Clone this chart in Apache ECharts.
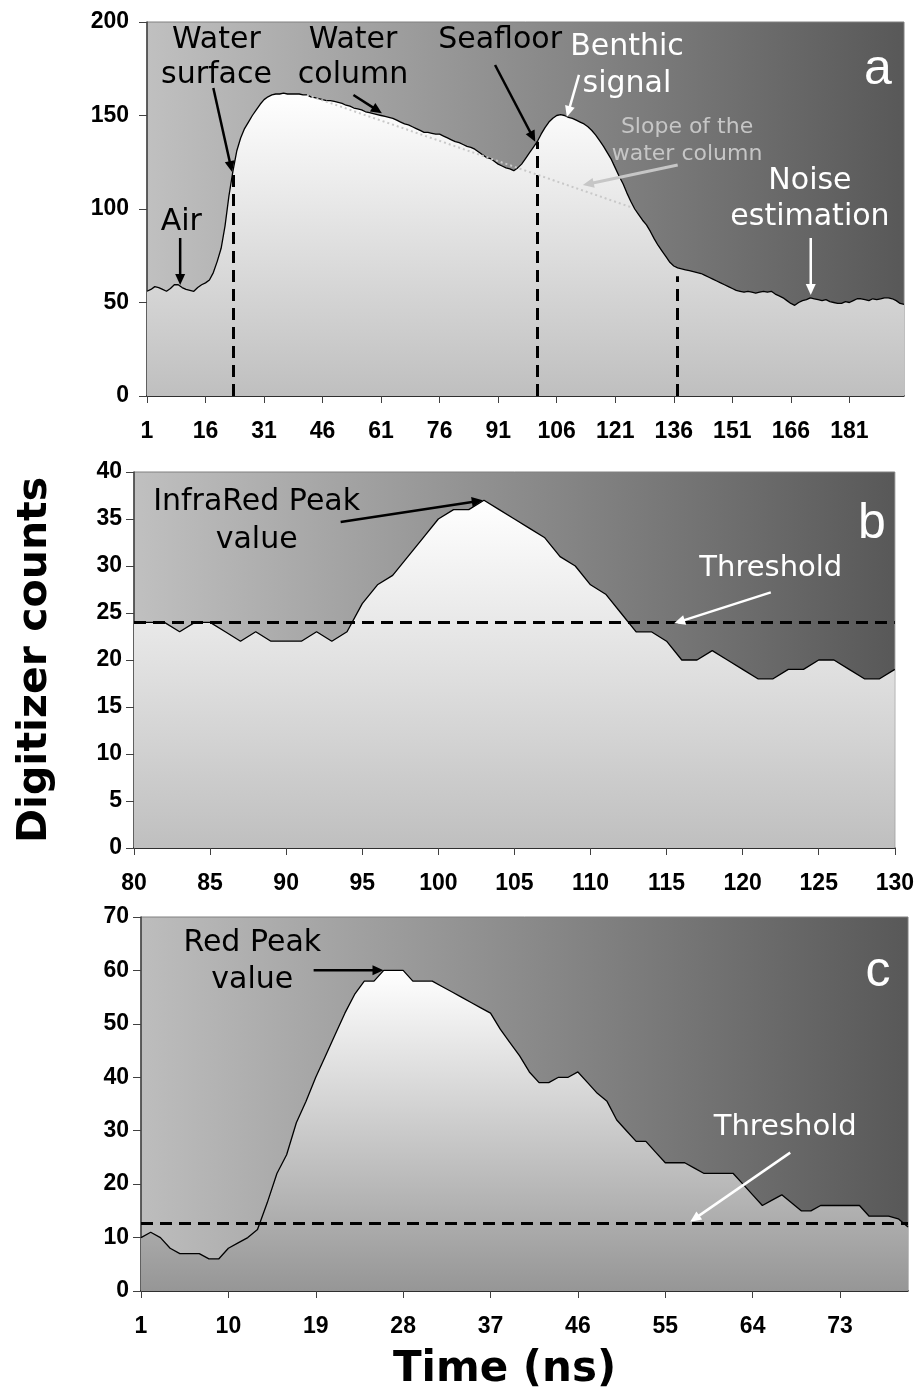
<!DOCTYPE html>
<html><head><meta charset="utf-8">
<script src="https://cdn.jsdelivr.net/npm/echarts@6/dist/echarts.min.js"></script>
<style>html,body{margin:0;padding:0;background:#fff}#c{width:917px;height:1399px}</style>
</head><body><div id="c"></div>
<script>
// ---------- DATA ----------
const timeA = Array.from({length: 195}, (_, i) => String(i + 1));
const countsA = [
  56, 57, 58.5, 58, 57, 56, 57.5, 59.5, 59.5, 58,
  57, 56.5, 56, 58, 59.5, 60.5, 62, 66, 72, 79,
  91, 107, 120, 131, 138, 143, 146.5, 150, 153, 156,
  158.5, 160, 161, 161.5, 161.5, 162, 161.5, 161.5, 161.5, 161.5,
  161, 161, 160, 159.5, 159, 158.5, 158, 158, 157.5, 157,
  156.5, 155.5, 155, 154, 153.5, 153, 152, 151.5, 151, 150.5,
  150, 149.5, 149, 148.5, 147.5, 146.5, 145.5, 145, 144, 143,
  142, 141, 141, 140.5, 140, 140, 139, 138, 137, 136,
  135.5, 134.5, 133.5, 133, 132, 130.5, 129, 127.5, 127, 125.5,
  124, 123, 122, 121.5, 120.5, 122, 124, 127, 130, 133,
  136, 140, 143.5, 146.5, 148.5, 150, 150.5, 150, 149, 148.5,
  147.5, 146.5, 145.5, 144, 142, 139.5, 136.5, 133.5, 130, 126.5,
  122, 117.5, 113.5, 108.5, 104, 100, 97, 94, 91.5, 88,
  84, 80.5, 77.5, 74.5, 71.5, 69.5, 68.5, 68, 67.5, 67,
  66.5, 66, 65.5, 64.5, 63.5, 62.5, 61.5, 60.5, 59.5, 58.5,
  57.5, 56.5, 56, 55.5, 56, 55.5, 55, 55.5, 56, 55.5,
  56, 54.5, 53.5, 52.5, 51, 49.5, 48.5, 50, 51, 51.5,
  52.5, 52, 51.5, 51, 51.5, 50.5, 50, 49.5, 49.5, 50.5,
  50, 51, 52, 52, 51.5, 51, 52, 51.5, 52, 52.5,
  52.5, 52, 51, 49.5, 49
];
// vertical limits in panel a: [time, top count]
const limitsA = [['23', 120], ['101', 136], ['137', 64]];
// water column slope line: [time, count] start and end
const slopeA = [['42', 161], ['125', 101]];

const timeB = [80,81,82,83,84,85,86,87,88,89,90,91,92,93,94,95,96,97,98,99,100,
  101,102,103,104,105,106,107,108,109,110,111,112,113,114,115,116,117,118,119,120,
  121,122,123,124,125,126,127,128,129,130];
const countsB = [
  24, 24, 24, 23, 24, 24, 23, 22, 23, 22,
  22, 22, 23, 22, 23, 26, 28, 29, 31, 33,
  35, 36, 36, 37, 36, 35, 34, 33, 31, 30,
  28, 27, 25, 23, 23, 22, 20, 20, 21, 20,
  19, 18, 18, 19, 19, 20, 20, 19, 18, 18,
  19
];
const thresholdB = 24;

const timeC = Array.from({length: 80}, (_, i) => String(i + 1));
const countsC = [
  10, 11, 10, 8, 7, 7, 7, 6, 6, 8,
  9, 10, 11.5, 16.5, 22, 25.5, 31.5, 35.5, 40, 44,
  48, 52, 55.5, 58, 58, 60, 60, 60, 58, 58,
  58, 57, 56, 55, 54, 53, 52, 49, 46.5, 44,
  41, 39, 39, 40, 40, 41, 39, 37, 35.5, 32,
  30, 28, 28, 26, 24, 24, 24, 23, 22, 22,
  22, 22, 20, 18, 16, 17, 18, 16.5, 15, 15,
  16, 16, 16, 16, 16, 14, 14, 14, 13.5, 12
];
const thresholdC = 12.7;

// annotations (panel, text, [time, count])
const labels = [
  [0, 'Water\nsurface', [18.8, 181]],
  [0, 'Water\ncolumn', [53.8, 181]],
  [0, 'Seafloor', [91.5, 190.4]],
  [0, 'Benthic\nsignal', [124, 176.5]],
  [0, 'Slope of the\nwater column', [139.4, 136.4]],
  [0, 'Noise\nestimation', [170.9, 105.3]],
  [0, 'Air', [9.8, 93]],
  [0, 'a', [188.3, 174.3]],
  [1, 'InfraRed Peak\nvalue', [88.06, 34.75]],
  [1, 'b', [128.5, 34.4]],
  [1, 'Threshold', [121.85, 29.76]],
  [2, 'Red Peak\nvalue', [12.46, 61.7]],
  [2, 'c', [76.9, 59.7]],
  [2, 'Threshold', [67.35, 30.7]]
];
const arrows = [
  [0, [18, 164.7], [22.8, 119.8], 'dark'],
  [0, [53.9, 161], [61.2, 151.2], 'dark'],
  [0, [90.2, 177], [100.5, 136], 'dark'],
  [0, [111.7, 171.7], [108.6, 149.2], 'light'],
  [0, [137, 123.5], [112.7, 112.8], 'grey'],
  [0, [171.1, 84.5], [171.1, 54], 'light'],
  [0, [9.5, 84.5], [9.5, 59.4], 'dark'],
  [1, [93.58, 34.68], [102.92, 36.99], 'dark'],
  [1, [121.85, 27.2], [115.5, 23.9], 'light'],
  [2, [18.78, 60.03], [25.98, 60.03], 'dark'],
  [2, [67.87, 25.9], [57.57, 12.96], 'light']
];

// ---------- STYLE ----------
const COMIC = "'Comic Sans MS', 'DejaVu Sans', sans-serif";
const ARIAL = "'Liberation Sans', Arial, sans-serif";
const labelStyle = {
  'Water\nsurface': ['#000', 30, 35], 'Water\ncolumn': ['#000', 30, 35], 'Seafloor': ['#000', 30, 35],
  'Benthic\nsignal': ['#fff', 30, 37], 'Slope of the\nwater column': ['#c6c6c6', 22, 27],
  'Noise\nestimation': ['#fff', 30, 36], 'Air': ['#000', 30, 35],
  'InfraRed Peak\nvalue': ['#000', 30, 38], 'Threshold': ['#fff', 29, 35],
  'Red Peak\nvalue': ['#000', 30, 37]
};
const arrowColor = {dark: '#000', light: '#fff', grey: '#c6c6c6'};

function bgGrad(left) {
  return {type: 'linear', x: 0, y: 0, x2: 1, y2: 0,
    colorStops: [{offset: 0, color: left}, {offset: 1, color: '#585858'}]};
}
function areaGrad(bottom) {
  return {type: 'linear', x: 0, y: 0, x2: 0, y2: 1,
    colorStops: [{offset: 0, color: '#ffffff'}, {offset: 1, color: bottom}]};
}
const tickLabel = {color: '#000', fontFamily: ARIAL, fontWeight: 'bold', fontSize: 23};

const grids = [
  {left: 147, top: 22, width: 757, height: 374},
  {left: 134, top: 472, width: 769, height: 376},
  {left: 141, top: 917, width: 767, height: 374}
].map((g, i) => Object.assign(g, {
  show: true, borderColor: '#808080', borderWidth: 1,
  backgroundColor: bgGrad(i === 2 ? '#bdbdbd' : '#c0c0c0')
}));

function yAx(i, max, interval, extra) {
  return Object.assign({
    type: 'value', gridIndex: i, min: 0, max: max, interval: interval,
    axisLine: {show: true, lineStyle: {color: '#404040', width: 1.5}},
    axisTick: {show: true, length: 8, lineStyle: {color: '#404040'}},
    axisLabel: Object.assign({margin: 12}, tickLabel),
    splitLine: {show: false}
  }, extra || {});
}
function xCat(i, data, every, extra) {
  return Object.assign({
    type: 'category', gridIndex: i, data: data, boundaryGap: false,
    axisLine: {show: true, lineStyle: {color: '#000', width: 1.5}},
    axisTick: {show: true, interval: every - 1, length: 7, lineStyle: {color: '#404040'}},
    axisLabel: Object.assign({interval: every - 1, margin: 24}, tickLabel),
    splitLine: {show: false}
  }, extra || {});
}

const dashed = {color: '#000', width: 3, type: [12, 7]};

const option = {
  animation: false,
  backgroundColor: '#fff',
  grid: grids,
  xAxis: [
    xCat(0, timeA, 15),
    {
      type: 'value', gridIndex: 1, min: 80, max: 130, interval: 5,
      axisLine: {show: true, lineStyle: {color: '#000', width: 1.5}},
      axisTick: {show: true, length: 7, lineStyle: {color: '#404040'}},
      axisLabel: Object.assign({margin: 24}, tickLabel),
      splitLine: {show: false}
    },
    xCat(2, timeC, 9, {
      name: 'Time (ns)', nameLocation: 'middle', nameGap: 58,
      nameTextStyle: {fontFamily: COMIC, fontWeight: 'bold', fontSize: 42, color: '#000', padding: [0, 40, 0, 0]}
    })
  ],
  yAxis: [
    yAx(0, 200, 50, {axisLabel: Object.assign({margin: 18}, tickLabel)}),
    yAx(1, 40, 5, {
      name: 'Digitizer counts', nameLocation: 'middle', nameRotate: 90, nameGap: 78,
      nameTextStyle: {fontFamily: COMIC, fontWeight: 'bold', fontSize: 41, color: '#000'}
    }),
    yAx(2, 70, 10)
  ],
  series: [
    {
      type: 'line', xAxisIndex: 0, yAxisIndex: 0, data: countsA, symbol: 'none',
      lineStyle: {color: '#000', width: 1.3}, areaStyle: {color: areaGrad('#bfbfbf'), opacity: 1},
      markLine: {
        silent: true, symbol: ['none', 'none'], label: {show: false},
        data: limitsA.map(l => [{coord: [l[0], 0], lineStyle: dashed}, {coord: [l[0], l[1]]}])
          .concat([[{coord: slopeA[0], lineStyle: {color: '#c8c8c8', width: 2, type: [2, 3]}}, {coord: slopeA[1]}]])
      }
    },
    {
      type: 'line', xAxisIndex: 1, yAxisIndex: 1, data: timeB.map((t, i) => [t, countsB[i]]), symbol: 'none',
      lineStyle: {color: '#000', width: 1.3}, areaStyle: {color: areaGrad('#bfbfbf'), opacity: 1},
      markLine: {silent: true, symbol: ['none', 'none'], label: {show: false},
        lineStyle: dashed, data: [{yAxis: thresholdB}]}
    },
    {
      type: 'line', xAxisIndex: 2, yAxisIndex: 2, data: countsC, symbol: 'none',
      lineStyle: {color: '#000', width: 1.3}, areaStyle: {color: areaGrad('#969696'), opacity: 1},
      markLine: {silent: true, symbol: ['none', 'none'], label: {show: false},
        lineStyle: dashed, data: [{yAxis: thresholdC}]}
    }
  ]
};

const chart = echarts.init(document.getElementById('c'), null, {renderer: 'canvas'});
chart.setOption(option);

// ---------- ANNOTATIONS (anchored on the axes) ----------
const isCat = [true, false, true];
function toPx(p, x, y) {
  const f = {xAxisIndex: p, yAxisIndex: p};
  if (!isCat[p]) return chart.convertToPixel(f, [x, y]);
  const idx = x - 1, i0 = Math.floor(idx), fr = idx - i0;
  const a = chart.convertToPixel(f, [i0, y]);
  const b = chart.convertToPixel(f, [i0 + 1, y]);
  return [a[0] + (b[0] - a[0]) * fr, a[1]];
}
const graphics = [];
labels.forEach(([p, text, pos]) => {
  const pt = toPx(p, pos[0], pos[1]);
  const single = text.length === 1;
  const st = single ? ['#fff', 50, 50] : labelStyle[text];
  graphics.push({
    type: 'text', x: pt[0], y: pt[1], z: 100, silent: true,
    style: {text: text, fill: st[0], fontSize: st[1], lineHeight: st[2],
      fontFamily: single ? ARIAL : COMIC, fontWeight: 'normal',
      align: 'center', verticalAlign: 'middle'}
  });
});
arrows.forEach(([p, from, to, kind]) => {
  const a = toPx(p, from[0], from[1]);
  const b = toPx(p, to[0], to[1]);
  const col = arrowColor[kind];
  const dx = b[0] - a[0], dy = b[1] - a[1];
  const len = Math.sqrt(dx * dx + dy * dy), ux = dx / len, uy = dy / len;
  const hl = 11, hw = 5;
  const bx = b[0] - ux * hl, by = b[1] - uy * hl;
  graphics.push({
    type: 'line', z: 100, silent: true,
    shape: {x1: a[0], y1: a[1], x2: bx + ux * 2, y2: by + uy * 2},
    style: {stroke: col, lineWidth: kind === 'grey' ? 3 : 2.5}
  });
  graphics.push({
    type: 'polygon', z: 100, silent: true,
    shape: {points: [[b[0], b[1]], [bx - uy * hw, by + ux * hw], [bx + uy * hw, by - ux * hw]]},
    style: {fill: col}
  });
});
chart.setOption({graphic: graphics});
</script>
</body></html>
